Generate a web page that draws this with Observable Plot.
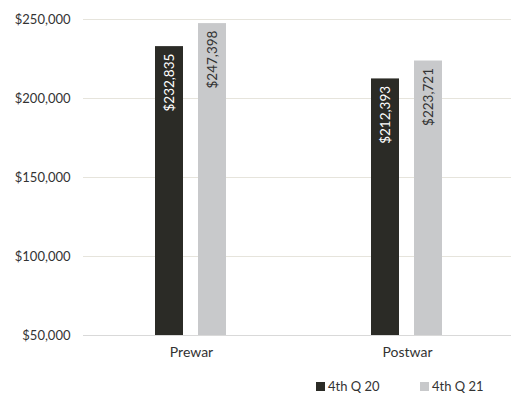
<!DOCTYPE html>
<html>
<head>
<meta charset="utf-8">
<script src="https://cdn.jsdelivr.net/npm/d3@7"></script>
<script src="https://cdn.jsdelivr.net/npm/@observablehq/plot@0.6"></script>
<style>
  body { margin: 0; background: #fff; font-family: Lato, "Noto Sans", sans-serif; }
  #legend { display: flex; height: 32px; align-items: center; font-size: 13px; color: #333; padding-left: 316px; }
  .item { display: flex; align-items: center; width: 104px; flex: none; }
  .sw { width: 9px; height: 9px; margin-right: 3px; flex: none; }
</style>
</head>
<body>
<div id="chart"></div>
<div id="legend"></div>
<script>
const categories = ["Prewar", "Postwar"];
const series = ["4th Q 20", "4th Q 21"];
const prewarValues = [232835, 247398];
const postwarValues = [212393, 223721];
const colors = ["#2b2b26", "#c8c9cb"];
const labelColors = ["#ffffff", "#333333"];
const yTicks = [50000, 100000, 150000, 200000, 250000];

const valuesByCategory = [prewarValues, postwarValues];
const data = [];
categories.forEach((c, i) => series.forEach((s, j) => data.push({category: c, series: s, value: valuesByCategory[i][j], labelColor: labelColors[j]})));
const fmt = d3.format("$,");

const chart = Plot.plot({
  width: 511,
  height: 370,
  marginLeft: 83,
  marginRight: 0,
  marginTop: 19,
  marginBottom: 35,
  style: {fontFamily: "Lato, 'Noto Sans', sans-serif", fontSize: "13px", color: "#333"},
  fx: {domain: categories, range: [83, 515], padding: 0, axis: "bottom", label: null, tickSize: 0, tickPadding: 12},
  x: {domain: series, paddingInner: 0.34, paddingOuter: 1.625, axis: null},
  y: {domain: [50000, 250000], ticks: yTicks, tickFormat: fmt, tickSize: 0, tickPadding: 13, label: null},
  color: {domain: series, range: colors},
  marks: [
    Plot.ruleY(yTicks.slice(1), {stroke: "#e6e4dc", strokeWidth: 1}),
    Plot.ruleY([50000], {stroke: "#d9d9d9", strokeWidth: 1}),
    Plot.barY(data, {fx: "category", x: "series", y1: 50000, y2: "value", fill: "series"}),
    Plot.text(data, {fx: "category", x: "series", y: "value", text: d => fmt(d.value), rotate: -90, textAnchor: "end", lineAnchor: "middle", dy: 7, fill: "labelColor", fontSize: 13.5})
  ]
});
chart.querySelectorAll("g[aria-label='fx-axis tick label'] text, g[aria-label='fx-axis'] text").forEach(t => t.style.fontSize = "14px");
document.getElementById("chart").appendChild(chart);

const legend = document.getElementById("legend");
series.forEach((s, i) => {
  const it = document.createElement("div");
  it.className = "item";
  it.innerHTML = `<span class="sw" style="background:${colors[i]}"></span><span>${s}</span>`;
  legend.appendChild(it);
});
</script>
</body>
</html>
